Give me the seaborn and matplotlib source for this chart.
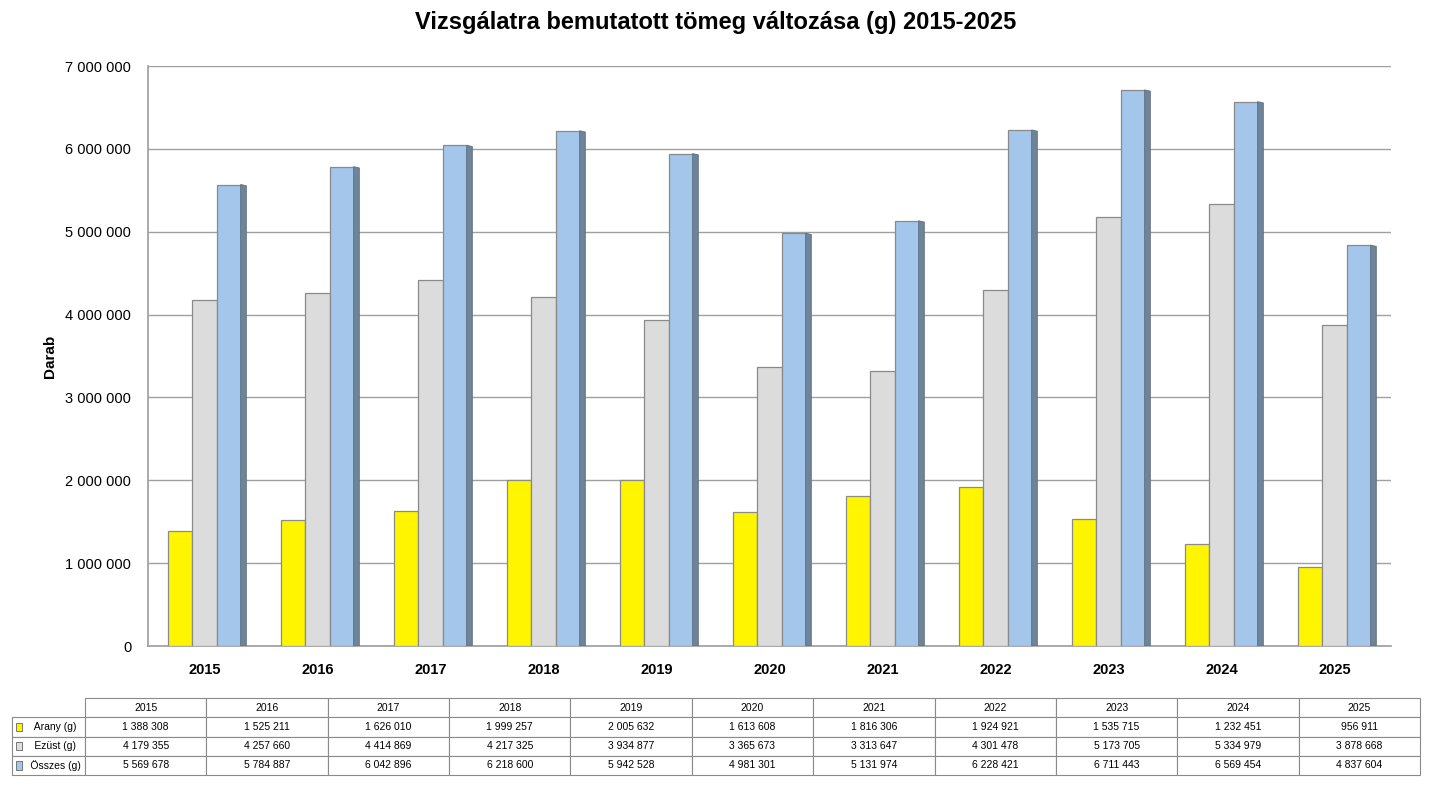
import matplotlib
matplotlib.use("Agg")
import matplotlib.pyplot as plt
import seaborn as sns
import pandas as pd
from matplotlib.patches import Rectangle, Polygon

years = ["2015", "2016", "2017", "2018", "2019", "2020", "2021", "2022", "2023", "2024", "2025"]
arany = [1388308, 1525211, 1626010, 1999257, 2005632, 1613608, 1816306, 1924921, 1535715, 1232451, 956911]
ezust = [4179355, 4257660, 4414869, 4217325, 3934877, 3365673, 3313647, 4301478, 5173705, 5334979, 3878668]
osszes = [5569678, 5784887, 6042896, 6218600, 5942528, 4981301, 5131974, 6228421, 6711443, 6569454, 4837604]
series_names = ["Arany (g)", "Ezüst (g)", "Összes (g)"]
colors = ["#FFF500", "#DCDCDC", "#A3C6EA"]
side_color = "#6E8499"

sns.set_theme(style="white")
plt.rcParams['font.family'] = ['Liberation Sans', 'DejaVu Sans']
plt.rcParams['text.color'] = 'black'
plt.rcParams['xtick.color'] = 'black'
plt.rcParams['ytick.color'] = 'black'
plt.rcParams['axes.labelcolor'] = 'black'

rows = []
for name, vals in zip(series_names, [arany, ezust, osszes]):
    for y, v in zip(years, vals):
        rows.append({"Év": y, "Sorozat": name, "Érték": v})
df = pd.DataFrame(rows)

fig = plt.figure(figsize=(14.3, 7.88), dpi=100)
ax = fig.add_axes([148/1430, 1-646/788, 1243/1430, 580/788])

sns.barplot(data=df, x="Év", y="Érték", hue="Sorozat", order=years, hue_order=series_names,
            palette=colors, saturation=1, width=0.64, gap=0, edgecolor="#8A8A8A", linewidth=0.9,
            ax=ax, legend=False, zorder=3)

# side faces for the rightmost (blue) bars
bars = [p for p in ax.patches if isinstance(p, Rectangle)]
blue_patches = bars[2*len(years):3*len(years)]
for p in blue_patches:
    x1 = p.get_x() + p.get_width()
    h = p.get_height()
    d = 0.05
    poly = Polygon([(x1, 0), (x1 + d, 0), (x1 + d, h - 15000), (x1, h)],
                   closed=True, facecolor=side_color, edgecolor="#5E6E7E", linewidth=0.6, zorder=3)
    ax.add_patch(poly)

ax.set_xlim(-0.5, 10.5)
ax.set_ylim(0, 7000000)
ax.set_yticks(range(0, 7000001, 1000000))
ax.set_yticklabels([f"{v:,}".replace(",", " ") for v in range(0, 7000001, 1000000)], fontsize=10.5)
ax.yaxis.grid(True, color="#A0A0A0", linewidth=1.0, zorder=0)
ax.set_axisbelow(True)
for s in ["top", "right"]:
    ax.spines[s].set_visible(False)
ax.spines["left"].set_color("#A0A0A0")
ax.spines["bottom"].set_color("#A0A0A0")
ax.tick_params(axis="y", length=0, pad=12)
ax.tick_params(axis="x", length=0, pad=12)
for lbl in ax.get_xticklabels():
    lbl.set_fontweight("bold")
    lbl.set_fontsize(10.5)
ax.set_xlabel("")
ax.set_ylabel("Darab", fontsize=11, fontweight="bold", labelpad=6)

fig.text(716/1430, 1-22/788, "Vizsgálatra bemutatott tömeg változása (g) 2015-2025",
         ha="center", va="center", fontsize=17, fontweight="bold")

# data table
tax = fig.add_axes([12/1430, 1-775/788, 1408/1430, 77/788])
tax.axis("off")
fmt = lambda v: f"{v:,}".replace(",", " ")
cell_text = [[""] + years]
for name, vals in zip(series_names, [arany, ezust, osszes]):
    cell_text.append(["     " + name] + [fmt(v) for v in vals])
lw = 73/1408
cw = (1 - lw) / 11
tbl = tax.table(cellText=cell_text, colWidths=[lw] + [cw]*11, bbox=[0, 0, 1, 1], cellLoc="center")
tbl.auto_set_font_size(False)
tbl.set_fontsize(7.5)
for (r, c), cell in tbl.get_celld().items():
    cell.set_edgecolor("#8A8A8A")
    cell.set_linewidth(0.8)
    if c == 0:
        cell._loc = "left"
        cell.PAD = 0.02
    if r == 0 and c == 0:
        cell.set_edgecolor("white")
for i, col in enumerate(colors):
    yc = 1 - (i + 1.5) * 0.25
    tax.add_patch(Rectangle((0.0028, yc - 0.055), 0.0045, 0.11, transform=tax.transAxes,
                            facecolor=col, edgecolor="#666666", linewidth=0.6, clip_on=False, zorder=5))

fig.savefig("out.png", dpi=100)
